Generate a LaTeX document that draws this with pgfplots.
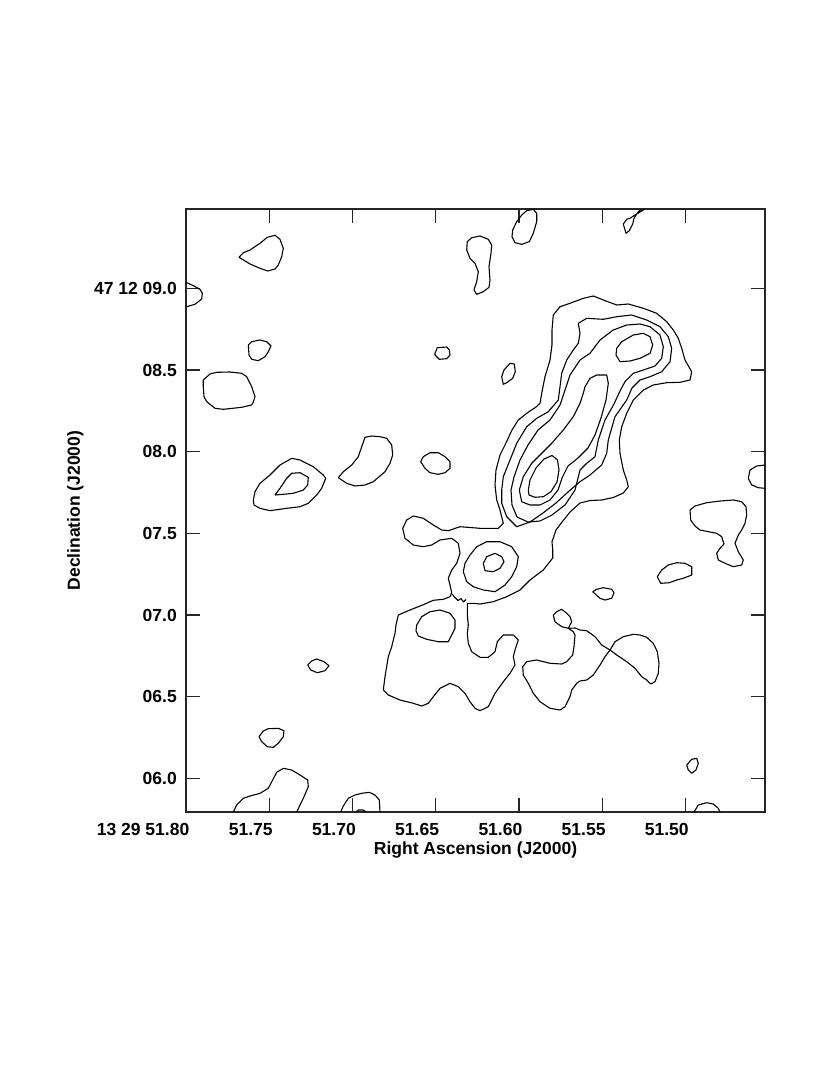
\documentclass[border=0pt]{standalone}
\usepackage{fontspec}
\setmainfont{Liberation Sans}
\usepackage{pgfplots}
\pgfplotsset{compat=1.18}
\begin{document}
\begin{tikzpicture}
\begin{axis}[
 x=1pt, y=1pt,
 xmin=186, xmax=765, ymin=209, ymax=812,
 y dir=reverse,
 clip=false,
 axis line style={line width=1.3pt, black!85},
 tick align=inside,
 tick pos=both,
 major tick length=14pt,
 every tick/.style={line width=1.2pt, black!85},
 xtick={186,269.3,352.5,435.7,519,602.2,685.4},
 xticklabels={13 29 51.80,51.75,51.70,51.65,51.60,51.55,51.50},
 ytick={288.3,370,451.7,533.3,615,696.7,778.3},
 yticklabels={47 12 09.0,08.5,08.0,07.5,07.0,06.5,06.0},
 xticklabel pos=left,
 yticklabel pos=left,
 xticklabel style={anchor=north east, inner sep=0pt, xshift=3.5pt, yshift=-11pt, font=\bfseries\fontsize{17.5}{20}\selectfont},
 yticklabel style={anchor=east, inner sep=0pt, xshift=-9pt, font=\bfseries\fontsize{17.5}{20}\selectfont},
 cnt/.style={black, line width=1.1pt, line join=round, mark=none},
]
% top-left blobs
\addplot[cnt] coordinates {(239,257.3)(243.3,252.7)(250,250)(260,243.3)(267.3,237.3)(275,235.3)(280,239.3)(283.3,248.3)(281.7,256.7)(278.3,265)(275,269)(267.7,271)(260,268.3)(250,264)(239,257.3)};
\addplot[cnt] coordinates {(186,282.3)(193.3,285.7)(200,289.3)(202.3,293.3)(201.7,299)(195,304.3)(186.7,306.7)};
\addplot[cnt] coordinates {(248.3,345)(251.7,341.7)(260,340)(266.7,341.7)(271,346)(268.3,351.7)(265,356.7)(258.3,360.7)(251.7,359.3)(249,355)(248.3,345)};
\addplot[cnt] coordinates {(203.3,380)(210,374)(216.7,372.3)(230,372)(241.7,373.3)(246.7,376.7)(251.7,386.7)(255,396.7)(253.3,402)(251.7,405)(241.7,407.3)(223.3,409.3)(215,408.3)(206.7,401.7)(204,396.7)(203.3,386.7)(203.3,380)};
% top middle blobs
\addplot[cnt] coordinates {(512.7,230)(516.7,221.7)(521.7,215)(526.7,210.7)(533.3,209.3)(536.7,213.3)(536.7,221.7)(533.3,233.3)(529.3,241.7)(521.7,244.3)(515,242.7)(512,236.7)(512.7,230)};
\addplot[cnt] coordinates {(467.3,241.7)(471.7,237.7)(480,236)(488.3,239.3)(491.7,245)(491,253.3)(489,266.7)(490,280)(489,287.3)(483.3,291.7)(476.7,294.3)(474,290)(476.7,281.7)(478.3,271.7)(475,263.3)(470,258.3)(466.7,250)(467.3,241.7)};
\addplot[cnt] coordinates {(435,353.3)(437.3,347.7)(446.7,347)(449.3,350)(450,355)(446.7,358.7)(439.3,359.3)(435,355)(435,353.3)};
\addplot[cnt] coordinates {(501.7,376.7)(504,370)(510,363.3)(514.3,364)(515.3,371.7)(512.7,378.3)(506.7,382.7)(503.3,384.3)(501.7,376.7)};
\addplot[cnt] coordinates {(645,209)(635,215)(630,218.3)(626.7,219.3)(623.3,224)(626,233.3)(629.3,230.7)(632.7,224)(634,218.3)(638.3,211.7)(641.7,209)};
% jet outer contour (joined to lower region)
\addplot[cnt] coordinates {(553.3,315)(560,306.7)(570,303.3)(583.3,298.3)(593.3,296)(603.3,300)(616.7,305)(628.3,304)(643.3,308.3)(656.7,313.3)(666.7,321.7)(673.3,330)(678.3,338.3)(681.7,348.3)(685,360)(691.7,371.7)(690,380)(680,382.3)(666.7,382.7)(653.3,385)(643.3,390)(636.7,396.7)(633.3,400)(626.7,413.3)(621.7,426.7)(619.3,440)(620,453.3)(623.3,470)(626.7,480)(628.3,486.7)(623.3,493)(613.3,497.5)(601.7,500)(590,500.5)(580,503)(570,512)(562,522)(556,530)(552,541.7)(552.7,550)(552.7,558)(543.3,570)(530,580)(520,590)(506.7,596.7)(493.3,601.7)(480,604)(473.3,603.3)(467.3,603.3)(467.3,607)(467.3,615)(468.3,625)(467.3,633.3)(468.3,643.3)(471.7,651.7)(480,657.3)(488.3,657.3)(495,651.7)(497.3,641.7)(503.3,635)(513.3,635)(518.3,640)(515,650)(513.3,656.7)(515,665)(510,673.3)(503.3,681.7)(495,693.3)(488.3,706.7)(480,710.7)(475,708.3)(470,701.7)(465,693.3)(458.3,686.7)(450,683.3)(440,688.3)(433.3,696.7)(428.3,703.3)(421.7,706)(413.3,703.3)(400,700)(388.3,695)(383.3,690)(385,676.7)(388.3,656.7)(391.7,646.7)(395,633.3)(396,625)(398.3,615)(410,610)(423.3,604.7)(433.3,600.3)(443.3,599.3)(450,596.7)(451.7,592.7)(450,585)(448.3,578.3)(451.7,570)(456.7,563.3)(460,553.3)(458.3,543.3)(451.7,538.3)(440,540)(431.7,545)(423.3,546.7)(413.3,545)(405,538.3)(402.7,528.3)(406.7,520)(413.3,516)(423.3,518.3)(433.3,525)(441.7,530)(448.3,530.7)(460,526.7)(480,528.3)(498.3,528.3)(503.3,523.3)(500,510)(496.7,500)(495,485)(496,470)(500,455)(506,443)(512,430)(518.3,420)(526.7,413.3)(536,407)(540,403.3)(541.7,393.3)(545,376.7)(550,360)(552,345)(552,330)(553.3,315)};
\addplot[cnt] coordinates {(452,594)(455,597.5)(458,600.5)(461,598.5)(463.5,602)(466,599.5)};
% jet level 2
\addplot[cnt] coordinates {(578.3,323.3)(586.7,318.3)(603.3,319.3)(616.7,316.7)(631.7,315)(646.7,320)(660,326.7)(668.3,336.7)(671.7,348.3)(670,361.7)(661.7,371.7)(650,376.7)(640,380)(632,388)(626.7,400)(615,416.7)(608.3,440)(606.7,453.3)(601.7,465)(590,475)(580,481.7)(568,492)(556,503)(543,513)(530,522)(516.7,526.7)(506.7,516.7)(501.7,503.3)(501.7,490)(503.3,476.7)(510,460)(516.7,443.3)(526.7,426.7)(536.7,418.3)(548.3,411.7)(558.3,400)(560,386.7)(561.7,373.3)(566.7,360)(573.3,350)(578.3,343.3)(580,333.3)(578.3,323.3)};
% jet level 3
\addplot[cnt] coordinates {(613.3,330)(626.7,325)(640,324)(650,326.7)(660,335)(663.3,346.7)(661.7,358.3)(655,366)(643.3,370)(633.3,373.3)(625,381.7)(620,391)(614,404)(605,420)(598.3,440)(595,456.7)(586.7,463.3)(580,470)(575,490)(565,505)(552,515)(540,521)(528,522)(517,517)(512,505)(511,490)(514,477)(520,460)(528,445)(538,430)(550,420)(560,405)(565,390)(570,375)(580,360)(590,353.3)(600,340)(613.3,330)};
% jet level 4 (lower, elongated)
\addplot[cnt] coordinates {(585,386.7)(590,378.3)(596.7,375)(606.7,375)(608.3,383.3)(606,400)(601,418)(595,435)(588,448)(578,458)(568,466)(562,478)(558,490)(550,500)(540,505)(530,505)(521.7,501.7)(519.3,490)(523.3,476.7)(531.7,463.3)(541.7,453.3)(551.7,443.3)(563.3,430)(573.3,416.7)(580,403.3)(583.3,393.3)(585,386.7)};
% jet level 4 (upper peak)
\addplot[cnt] coordinates {(616.7,348.3)(621.7,341.7)(633.3,335)(643.3,333.3)(650,336.7)(652.7,345)(650,353.3)(640,358.3)(630,361)(620,361.7)(616,355)(616.7,348.3)};
% jet level 5 (lower peak)
\addplot[cnt] coordinates {(528.3,490)(530,480)(536,468)(544,459)(552,455.5)(557.5,460)(559,470)(557,482)(551,491.7)(543.3,496.7)(535,497.3)(529,495)(528.3,490)};
% knot near 07.3
\addplot[cnt] coordinates {(463.3,571.7)(465,563.3)(470,555)(476.7,546.7)(486.7,541.7)(500,541.7)(511.7,546.7)(518.3,556.7)(516.7,566.7)(511.7,576.7)(505,585)(495,591.7)(483.3,590)(473.3,586.7)(466.7,581.7)(463.3,571.7)};
\addplot[cnt] coordinates {(483.3,563.3)(486.7,556.7)(495,553.3)(501.7,556.7)(504,561.7)(500,568.3)(493.3,571.7)(485,570.7)(483.3,563.3)};
% inner blob of lower region
\addplot[cnt] coordinates {(416.7,625)(421.7,616.7)(430,611.7)(440,610)(450,613.3)(455,620)(455,628.3)(451.7,635)(448.3,641.7)(438.3,641.7)(426.7,639.3)(418.3,636)(416,630.7)(416.7,625)};
% middle left blobs
\addplot[cnt] coordinates {(253.3,500)(255,491.7)(260,483.3)(270,475)(280,465)(291.7,458.3)(300,460)(313.3,466.7)(323.3,475)(325.7,478.3)(321.7,488.3)(316.7,495)(308.3,503.3)(300,506.7)(286.7,508.3)(270,510.7)(260,508.3)(254,505)(253.3,500)};
\addplot[cnt] coordinates {(275,495)(280,488.3)(286.7,478.3)(291.7,473.3)(300,472.7)(308.3,477.3)(307.7,485)(303.3,490)(293.3,493.3)(283.3,494.3)(275,495)};
\addplot[cnt] coordinates {(338.3,477.7)(343.3,471.7)(351.7,465)(358.3,456.7)(361.7,446.7)(365,437.3)(371.7,436)(380,436.7)(386.7,438.3)(391.7,445)(392.7,455)(390,463.3)(385,471.7)(380,476)(373.3,481.7)(365,485)(355,486)(346.7,483.3)(338.3,477.7)};
\addplot[cnt] coordinates {(420.7,461.7)(423.3,456.7)(430,452.7)(438.3,452.7)(445,456.7)(450,461.7)(450,468.3)(445,472.7)(438.3,474.3)(430,472.7)(425,468.3)(420.7,461.7)};
% right side blobs
\addplot[cnt] coordinates {(765,465)(756.7,466)(750,470)(748.3,478.3)(751.7,485)(758.3,487.7)(765,488.3)};
\addplot[cnt] coordinates {(690,510)(695,506)(706.7,502.7)(720,501)(733.3,500)(741.7,501.7)(746,506.7)(746.7,515)(745,523.3)(741.7,530)(738.3,535)(735,543.3)(738.3,551.7)(743.3,560)(741.7,565)(733.3,566.7)(726.7,564)(718.3,560)(716.7,553.3)(720,548.3)(724,544)(721.7,536.7)(716.7,533.3)(708.3,531.7)(700,530)(695,526)(690.7,520)(690,510)};
\addplot[cnt] coordinates {(657.3,576.7)(661.7,570)(668.3,565)(676.7,562.7)(685,563.3)(691.7,566.7)(691.7,575)(683.3,578.3)(676.7,580)(669.3,582.7)(660.7,583.3)(657.3,576.7)};
\addplot[cnt] coordinates {(592.7,591.7)(596.7,589.3)(603.3,587.7)(611.7,589.3)(614,592.7)(611.7,598.3)(605,600)(600,598.3)(592.7,591.7)};
% figure-eight region
\addplot[cnt] coordinates {(553.3,615)(556.7,611.7)(561.7,609.3)(566.7,613.3)(570,616.7)(571.7,621.7)(568.3,628.3)(561.7,626.7)(555,621.7)(553.3,615)};
\addplot[cnt] coordinates {(568.3,628.3)(575,628)(580,630)(586.7,630.7)(595,636.7)(601.7,645)(610,650)(616.7,655)(626.7,661.7)(635,668.3)(641.7,676.7)(646.7,680)(650.7,684)(655,681.7)(658.3,673.3)(659,663.3)(657.3,651.7)(653.3,643.3)(646.7,637.3)(640,635)(633.3,634.3)(623.3,636.7)(615,641.7)(610,650)(605,656.7)(600,665)(593.3,675)(586.7,680)(580,681)(576.7,683.3)(571.7,690)(570,696.7)(565,706.7)(560,710)(550,708.3)(540,701.7)(533.3,693.3)(528.3,683.3)(523.3,675)(522.7,666.7)(526.7,661.7)(536.7,660)(550,663.3)(561.7,664)(566.7,661.7)(572.7,655)(574,646.7)(575,635)(573.3,631.7)(568.3,628.3)};
% lower left blobs
\addplot[cnt] coordinates {(307.7,665)(311.7,661)(316.7,659)(324,661.7)(329,665.7)(325,670.7)(317.3,672.7)(310.7,670)(307.7,665)};
\addplot[cnt] coordinates {(259,736.7)(263.3,731)(268.3,728.7)(278.3,728.3)(284,730.7)(283.3,736.7)(278.3,743.3)(273.3,747.3)(267.3,746.7)(261.7,741.7)(259,736.7)};
\addplot[cnt] coordinates {(233.3,812)(236.7,805)(243.3,798.3)(250,796)(260,793.3)(268.3,788.3)(276.7,772.3)(283.3,768.3)(291.7,770)(300,775)(307.7,780)(308.3,786.7)(303.3,798.3)(296.7,812)};
\addplot[cnt] coordinates {(340.7,812)(343.3,806)(348.3,798.3)(355,795)(361.7,793.3)(369.3,792.3)(375,795)(379.3,800)(380,812)};
\addplot[cnt] coordinates {(356,812)(358.3,810)(363.3,810)(366,812)};
% lower right blobs
\addplot[cnt] coordinates {(686.7,765)(691.7,759.3)(696.7,758.3)(698.3,763.3)(696,770)(691.7,773.3)(688.3,770)(686.7,765)};
\addplot[cnt] coordinates {(694,812)(698.3,805)(706.7,802.7)(713.3,804)(718.3,808.3)(720,812)};
% labels and page frame
\node[anchor=base, font=\bfseries\fontsize{17.5}{20}\selectfont] at (axis cs:475.5,854) {Right Ascension (J2000)};
\node[anchor=base, rotate=90, font=\bfseries\fontsize{17.5}{20}\selectfont] at (axis cs:80,510.5) {Declination (J2000)};
\path (axis cs:0,0) rectangle (axis cs:830,1075);
\end{axis}
\end{tikzpicture}
\end{document}
